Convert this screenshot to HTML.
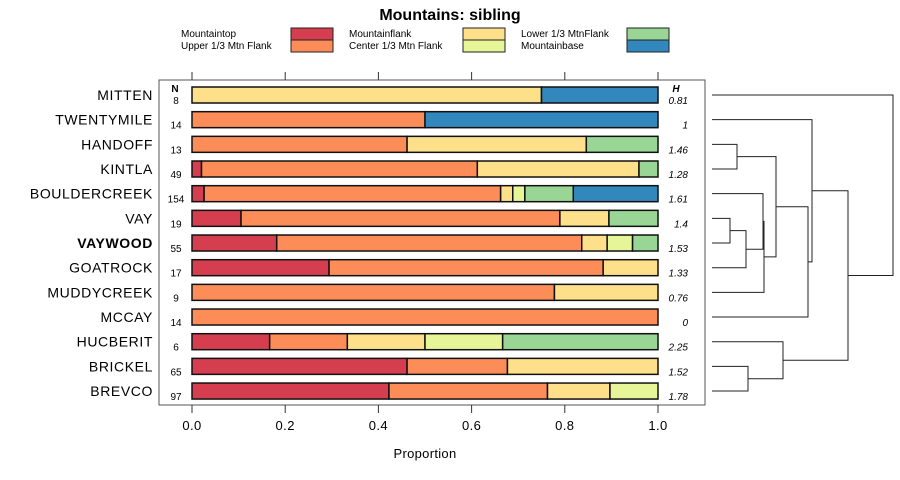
<!DOCTYPE html>
<html><head><meta charset="utf-8"><style>
body{margin:0;background:#fff;}
svg{display:block;font-family:"Liberation Sans",sans-serif;}
</style></head><body>
<svg id="chart" width="900" height="480" viewBox="0 0 900 480"></svg>
<script>
const categories=["MITTEN","TWENTYMILE","HANDOFF","KINTLA","BOULDERCREEK","VAY","VAYWOOD","GOATROCK","MUDDYCREEK","MCCAY","HUCBERIT","BRICKEL","BREVCO"];
const nValues=[8,14,13,49,154,19,55,17,9,14,6,65,97];
const hLabels=["0.81","1","1.46","1.28","1.61","1.4","1.53","1.33","0.76","0","2.25","1.52","1.78"];
const seriesNames=["Mountaintop","Upper 1/3 Mtn Flank","Mountainflank","Center 1/3 Mtn Flank","Lower 1/3 MtnFlank","Mountainbase"];
const seriesColors=["#d53e4f","#fc8d59","#fee08b","#e6f598","#99d594","#3288bd"];
const mountaintop=[0,0,0,1,4,2,10,5,0,0,1,30,41];
const upperFlank=[0,7,6,29,98,13,36,10,7,14,1,14,33];
const mountainflank=[6,0,5,17,4,2,3,2,2,0,1,21,13];
const centerFlank=[0,0,0,0,4,0,3,0,0,0,1,0,10];
const lowerFlank=[0,0,2,2,16,2,3,0,0,0,2,0,0];
const mountainbase=[2,7,0,0,28,0,0,0,0,0,0,0,0];
const series=[mountaintop,upperFlank,mountainflank,centerFlank,lowerFlank,mountainbase];
const xTicks=[0,0.2,0.4,0.6,0.8,1.0];
const xTickLabels=["0.0","0.2","0.4","0.6","0.8","1.0"];

const NS="http://www.w3.org/2000/svg";
const svg=document.getElementById('chart');
function mk(tag,attrs,parent){const e=document.createElementNS(NS,tag);for(const k in attrs)e.setAttribute(k,attrs[k]);(parent||svg).appendChild(e);return e;}
const x0=192,x1=658;
const xScale=v=>x0+(x1-x0)*v;
const rowY=i=>95+i*24.67;
const barH=16;

let t=mk('text',{x:450,y:20,'text-anchor':'middle','font-size':16,'font-weight':'bold'});t.textContent="Mountains: sibling";



const legX=[[181,291],[349,463],[521,627]];
seriesNames.forEach((n,k)=>{
  const c=Math.floor(k/2),r=k%2;
  const g=mk('g',{});
  
  
  const tx=mk('text',{x:legX[c][0],y:37+r*12,'font-size':10},g);tx.textContent=n;
  mk('rect',{x:legX[c][1],y:28+r*12,width:42,height:12,fill:seriesColors[k],stroke:'#222','stroke-width':1},g);
});

const frame=mk('rect',{x:159,y:80,width:546,height:325,fill:'none',stroke:'#555','stroke-width':1});



xTicks.forEach((v,i)=>{
  const x=xScale(v);
  mk('line',{x1:x,x2:x,y1:72,y2:80,stroke:'#333'});
  mk('line',{x1:x,x2:x,y1:405,y2:413,stroke:'#333'});
  const tl=mk('text',{x:x,y:430,'text-anchor':'middle','font-size':13,'letter-spacing':0.4});tl.textContent=xTickLabels[i];
  
  
});
const xt=mk('text',{x:425,y:458,'text-anchor':'middle','font-size':13,'letter-spacing':0.3});xt.textContent="Proportion";



let h=mk('text',{x:175,y:92,'text-anchor':'middle','font-size':10,'font-weight':'bold'});h.textContent="N";
h=mk('text',{x:676,y:92,'text-anchor':'middle','font-size':10,'font-weight':'bold','font-style':'italic'});h.textContent="H";

categories.forEach((c,i)=>{
  const y=rowY(i);
  const lb=mk('text',{x:153,y:y+5,'text-anchor':'end','font-size':14,'letter-spacing':0.6,'font-weight':c==="VAYWOOD"?'bold':'normal'});lb.textContent=c;
  
  
  const nl=mk('text',{x:176,y:y+9,'text-anchor':'middle','font-size':10});nl.textContent=nValues[i];
  
  
  const hl=mk('text',{x:688,y:y+9,'text-anchor':'end','font-size':10,'font-style':'italic'});hl.textContent=hLabels[i];
  
  
  const tot=series.reduce((s,a)=>s+a[i],0);
  let cum=0;
  series.forEach((a,k)=>{
    if(a[i]<=0)return;
    const b=mk('rect',{x:xScale(cum/tot),y:y-barH/2,width:xScale((cum+a[i])/tot)-xScale(cum/tot),height:barH,fill:seriesColors[k],stroke:'#111','stroke-width':1.5});
    
    
    cum+=a[i];
  });
});

// dendrogram
const dg=mk('g',{fill:'none',stroke:'#222','stroke-width':1});


const L=712;
function join(xa,ya,xb,yb,xn){mk('path',{d:`M${xa},${ya}H${xn}V${yb}H${xb}`},dg);return (ya+yb)/2;}
const Y=categories.map((c,i)=>rowY(i));
const a=join(L,Y[2],L,Y[3],737);
const b=join(L,Y[5],L,Y[6],730);
const c2=join(730,b,L,Y[7],746);
const d=join(L,Y[4],746,c2,763);
const e=join(763,d,L,Y[8],764);
const f=join(737,a,764,e,776);
const g2=join(776,f,L,Y[9],808);
const h2=join(L,Y[1],808,g2,812);
const i2=join(L,Y[11],L,Y[12],748);
const j=join(L,Y[10],748,i2,783);
const k2=join(812,h2,783,j,848);
join(L,Y[0],848,k2,893);
</script>
</body></html>
